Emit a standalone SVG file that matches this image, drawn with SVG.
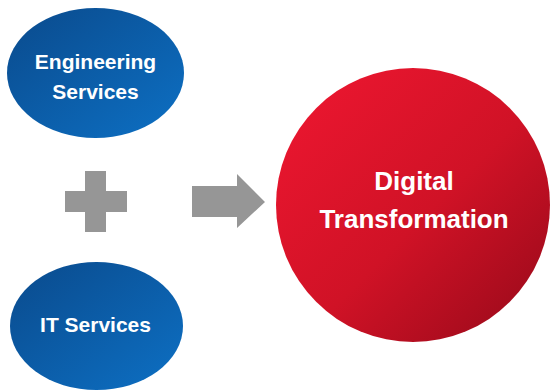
<svg xmlns="http://www.w3.org/2000/svg" width="551" height="392" viewBox="0 0 551 392">
<defs>
<linearGradient id="blue" x1="0" y1="0" x2="1" y2="1">
<stop offset="0" stop-color="#0a4a8c"/>
<stop offset="1" stop-color="#0d70c4"/>
</linearGradient>
<linearGradient id="red" x1="0.1" y1="0.1" x2="0.9" y2="0.9">
<stop offset="0" stop-color="#ea162f"/>
<stop offset="0.55" stop-color="#d01226"/>
<stop offset="1" stop-color="#a10b1c"/>
</linearGradient>
<style>
.t{font-family:"Liberation Sans",Arial,sans-serif;font-weight:bold;fill:#fff;text-anchor:middle}
.g{fill:#969696}
</style>
</defs>
<rect width="551" height="392" fill="#fff"/>
<g id="engineering">
<ellipse cx="95.5" cy="73" rx="88.5" ry="65" fill="url(#blue)"/>
<text class="t" x="95.5" y="69" font-size="21">Engineering</text>
<text class="t" x="95.5" y="99" font-size="21">Services</text>
</g>
<g id="it">
<ellipse cx="96.5" cy="326" rx="86.5" ry="64" fill="url(#blue)"/>
<text class="t" x="95.5" y="332" font-size="21">IT Services</text>
</g>
<g id="plus">
<path class="g" d="M85 171H106V191H127V212H106V232H85V212H65V191H85Z"/>
</g>
<g id="connectors">
<path class="g" d="M192 186H237V174L265 202L237 228V217H192Z"/>
</g>
<g id="digital">
<circle cx="413" cy="205" r="137" fill="url(#red)"/>
<text class="t" x="414" y="190" font-size="26">Digital</text>
<text class="t" x="414" y="228" font-size="26">Transformation</text>
</g>
</svg>
